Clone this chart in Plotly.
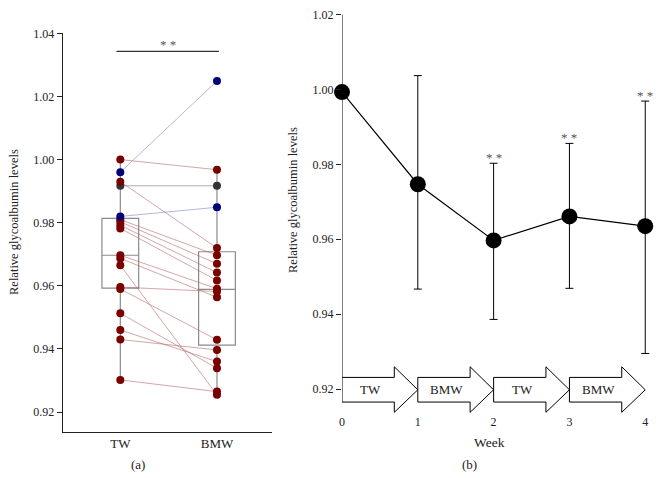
import plotly.graph_objects as go

# ---------- Panel (a) data ----------
groups = ["TW", "BMW"]
tw_red = [1.0000, 0.9930, 0.9810, 0.9803, 0.9792, 0.9782, 0.9697, 0.9687, 0.9665,
          0.9596, 0.9590, 0.9513, 0.9460, 0.9430, 0.9302]
bmw_red = [0.9968, 0.9720, 0.9697, 0.9670, 0.9642, 0.9617, 0.9591, 0.9564, 0.9255,
           0.9582, 0.9429, 0.9339, 0.9360, 0.9397, 0.9265]
tw_blue = [0.9960, 0.9820]
bmw_blue = [1.0249, 0.9849]
tw_gray = [0.9917]
bmw_gray = [0.9917]

box_q1 = [0.9593, 0.9412]
box_median = [0.9697, 0.9589]
box_q3 = [0.9814, 0.9708]
box_lower = [0.9302, 0.9255]
box_upper = [1.0000, 0.9968]

sig_y = 1.0343

# ---------- Panel (b) data ----------
weeks = [0, 1, 2, 3, 4]
week_mean = [0.9993, 0.9747, 0.9597, 0.9661, 0.9635]
err_upper = [None, 1.0037, 0.9803, 0.9856, 0.9969]
err_lower = [None, 0.9467, 0.9386, 0.9469, 0.9295]
sig_weeks = [2, 3, 4]
phases = ["TW", "BMW", "TW", "BMW"]

FONT = "Liberation Serif"
RED = "#7a0000"
BLUE = "#00007a"
DGRAY = "#333333"

# page has an 8px body margin: figure is placed at (8, 8) in the window
OFF = 8
W, H = 662 - OFF, 478 - OFF


def fx(x):
    return (x - OFF) / W


def fy(y):
    return 1 - (y - OFF) / H


fig = go.Figure()

# boxes
for i in range(2):
    fig.add_trace(go.Box(
        x=[i], q1=[box_q1[i]], median=[box_median[i]], q3=[box_q3[i]],
        lowerfence=[box_lower[i]], upperfence=[box_upper[i]],
        width=0.38, whiskerwidth=0, boxpoints=False,
        line=dict(color="#8a8a8a", width=1.2), fillcolor="rgba(0,0,0,0)",
        xaxis="x", yaxis="y", showlegend=False, hoverinfo="skip"))


def pair_lines(a, b):
    xs, ys = [], []
    for va, vb in zip(a, b):
        xs += [0, 1, None]
        ys += [va, vb, None]
    return xs, ys


for a, b, col in [(tw_red, bmw_red, "rgba(175,95,95,0.55)"),
                  (tw_blue, bmw_blue, "rgba(120,120,190,0.55)"),
                  (tw_gray, bmw_gray, "rgba(120,120,120,0.6)")]:
    xs, ys = pair_lines(a, b)
    fig.add_trace(go.Scatter(x=xs, y=ys, mode="lines", line=dict(color=col, width=1),
                             xaxis="x", yaxis="y", showlegend=False, hoverinfo="skip"))

for a, b, col in [(tw_gray, bmw_gray, DGRAY), (tw_red, bmw_red, RED), (tw_blue, bmw_blue, BLUE)]:
    fig.add_trace(go.Scatter(x=[0] * len(a) + [1] * len(b), y=a + b, mode="markers",
                             marker=dict(color=col, size=8), cliponaxis=False,
                             xaxis="x", yaxis="y", showlegend=False))

# panel (b) error bars + line
ws = weeks[1:]
fig.add_trace(go.Scatter(
    x=ws, y=week_mean[1:], mode="markers",
    marker=dict(size=0.1, color="black"),
    error_y=dict(type="data", symmetric=False,
                 array=[u - m for u, m in zip(err_upper[1:], week_mean[1:])],
                 arrayminus=[m - l for l, m in zip(err_lower[1:], week_mean[1:])],
                 color="black", thickness=1, width=4),
    xaxis="x2", yaxis="y2", showlegend=False, hoverinfo="skip"))
fig.add_trace(go.Scatter(
    x=weeks, y=week_mean, mode="lines+markers",
    line=dict(color="black", width=1.2), marker=dict(color="black", size=16),
    cliponaxis=False, xaxis="x2", yaxis="y2", showlegend=False))

shapes = []
annotations = []

# significance bar in (a)
shapes.append(dict(type="line", xref="x", yref="y", x0=-0.04, x1=1.02, y0=sig_y, y1=sig_y,
                   line=dict(color="black", width=1)))
annotations.append(dict(x=0.49, y=sig_y, xref="x", yref="y", text="* *", showarrow=False,
                        yanchor="bottom", yshift=-3, font=dict(family=FONT, size=13, color="#555")))

# y-axis line for (b)
shapes.append(dict(type="line", xref="x2", yref="y2", x0=0, x1=0, y0=0.9165, y1=1.02,
                   line=dict(color="black", width=1)))

# arrows in (b)
s_bot, s_top, h_top, h_bot, tip = 0.91653, 0.92311, 0.92595, 0.91379, 0.9198
for i, lab in enumerate(phases):
    x0 = weeks[i]
    x1 = weeks[i + 1]
    xh = x0 + 0.69 * (x1 - x0)
    path = (f"M {x0},{s_bot} L {x0},{s_top} L {xh},{s_top} L {xh},{h_top} "
            f"L {x1},{tip} L {xh},{h_bot} L {xh},{s_bot} Z")
    shapes.append(dict(type="path", xref="x2", yref="y2", path=path,
                       fillcolor="white", line=dict(color="black", width=1)))
    annotations.append(dict(x=x0 + 0.38, y=tip, xref="x2", yref="y2", text=lab, showarrow=False,
                            font=dict(family=FONT, size=13, color="#222")))

# stars in (b)
for w in sig_weeks:
    annotations.append(dict(x=w, y=err_upper[w], xref="x2", yref="y2", text="* *", showarrow=False,
                            yanchor="bottom", yshift=-4, font=dict(family=FONT, size=13, color="#555")))

# titles / labels
for txt, x, y, ang, sz in [("Relative glycoalbumin levels", 14, 222, -90, 12.5),
                           ("Relative glycoalbumin levels", 293, 200, -90, 12.5),
                           ("(a)", 138, 464, 0, 13),
                           ("(b)", 469, 464, 0, 13),
                           ("Week", 490, 442, 0, 13.5)]:
    annotations.append(dict(x=fx(x), y=fy(y), xref="paper", yref="paper", text=txt, showarrow=False,
                            textangle=ang, xanchor="center", yanchor="middle",
                            font=dict(family=FONT, size=sz, color="#222")))

tickfont = dict(family=FONT, size=12, color="#222")
cattickfont = dict(family=FONT, size=13, color="#222")

fig.update_layout(
    width=W, height=H, margin=dict(l=0, r=0, t=0, b=0, pad=0), autosize=False,
    paper_bgcolor="white", plot_bgcolor="white",
    font=dict(family=FONT),
    shapes=shapes, annotations=annotations,
    xaxis=dict(domain=[fx(62.7), fx(271.7)], range=[-0.596, 1.566], tickvals=[0, 1],
               ticktext=groups, showline=True, linecolor="#222", linewidth=1.2,
               showgrid=False, zeroline=False, ticks="", tickfont=cattickfont, automargin=False,
               ticklabeloverflow="allow"),
    yaxis=dict(domain=[fy(431.7), fy(33.0)], range=[0.9138, 1.0401],
               tickvals=[0.92, 0.94, 0.96, 0.98, 1.00, 1.02, 1.04], tickformat=".2f",
               showline=True, linecolor="#222", linewidth=1.2, ticks="outside", ticklen=5,
               tickcolor="#222", showgrid=False, zeroline=False, tickfont=tickfont,
               automargin=False, ticklabeloverflow="allow"),
    xaxis2=dict(domain=[fx(342), fx(660.4)], range=[0, 4.2], tickvals=weeks,
                showline=False, showgrid=False, zeroline=False, ticks="", tickfont=tickfont,
                anchor="y2", automargin=False, ticklabeloverflow="allow"),
    yaxis2=dict(domain=[fy(413.4), fy(14.2)], range=[0.9135, 1.0201],
                tickvals=[0.92, 0.94, 0.96, 0.98, 1.00, 1.02], tickformat=".2f",
                showline=False, ticks="outside", ticklen=5, tickcolor="#222",
                showgrid=False, zeroline=False, tickfont=tickfont, anchor="x2",
                automargin=False, ticklabeloverflow="allow"),
)

fig.write_html("out.html")
